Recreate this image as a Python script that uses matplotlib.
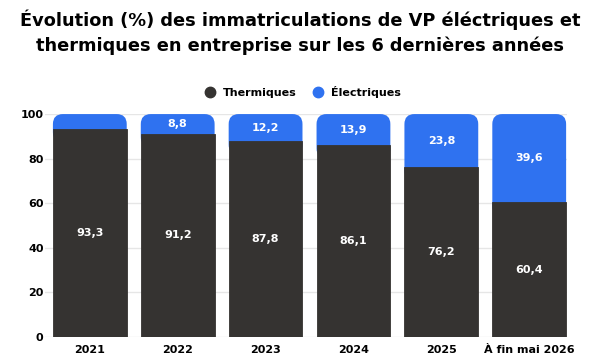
import matplotlib
matplotlib.use("Agg")
import matplotlib.pyplot as plt
from matplotlib.patches import FancyBboxPatch
from matplotlib.lines import Line2D

years = ["2021", "2022", "2023", "2024", "2025", "À fin mai 2026"]
thermiques = [93.3, 91.2, 87.8, 86.1, 76.2, 60.4]
electriques = [6.7, 8.8, 12.2, 13.9, 23.8, 39.6]
yticks = [0, 20, 40, 60, 80, 100]

DARK = "#353331"
BLUE = "#2f72f0"

plt.rcParams["font.family"] = ["DejaVu Sans"]
plt.rcParams["font.weight"] = "bold"

fig = plt.figure(figsize=(6, 3.61), dpi=100)
ax = fig.add_axes([0.075, 0.0665, 0.87, 0.6175])

x = list(range(len(years)))
width = 0.84
ax.set_xlim(-0.51, 5.43)
ax.set_ylim(0, 100)

# aspect between y and x data units, for round corners
bbox = ax.get_position()
px_w = bbox.width * fig.get_figwidth() * fig.dpi
px_h = bbox.height * fig.get_figheight() * fig.dpi
xu = (5.43 + 0.51) / px_w
yu = 100 / px_h
r = 10 * xu

for xi, t, e in zip(x, thermiques, electriques):
    # rounded blue top, its lower part hidden under the dark bar
    base = t - 6
    ax.add_patch(FancyBboxPatch((xi - width / 2, base), width, t + e - base,
                                boxstyle=f"round,pad=0,rounding_size={r}",
                                mutation_aspect=yu / xu,
                                fc=BLUE, ec="none", zorder=2))
    ax.bar(xi, t, width=width, color=DARK, ec=DARK, lw=0.6, zorder=3)
    ax.text(xi, t / 2, f"{t:.1f}".replace(".", ","), color="white",
            ha="center", va="center", fontsize=8, fontweight="bold", zorder=4)
    if e >= 8:
        ax.text(xi, t + e / 2, f"{e:.1f}".replace(".", ","), color="white",
                ha="center", va="center", fontsize=8, fontweight="bold", zorder=4)

ax.set_yticks(yticks)
ax.set_xticks(x)
ax.set_xticklabels(years)
ax.tick_params(axis="x", length=0, labelsize=8, pad=6)
ax.tick_params(axis="y", length=0, labelsize=8, pad=1)
for lab in ax.get_xticklabels() + ax.get_yticklabels():
    lab.set_fontweight("bold")
ax.grid(axis="y", color="#e6e6e6", lw=1, zorder=0)
for s in ax.spines.values():
    s.set_visible(False)

fig.text(0.5, 0.975, "Évolution (%) des immatriculations de VP éléctriques et\n"
         "thermiques en entreprise sur les 6 dernières années",
         ha="center", va="top", fontsize=12.8, fontweight="heavy", linespacing=1.45)

handles = [Line2D([], [], marker="o", ls="", color=DARK, markersize=7.5),
           Line2D([], [], marker="o", ls="", color=BLUE, markersize=7.5)]
fig.legend(handles, ["Thermiques", "Électriques"], loc="center",
           bbox_to_anchor=(0.5, 0.745), ncol=2, frameon=False,
           prop={"size": 8, "weight": "bold"}, handletextpad=0.2,
           columnspacing=0.9)

fig.savefig("out.png", dpi=100)
